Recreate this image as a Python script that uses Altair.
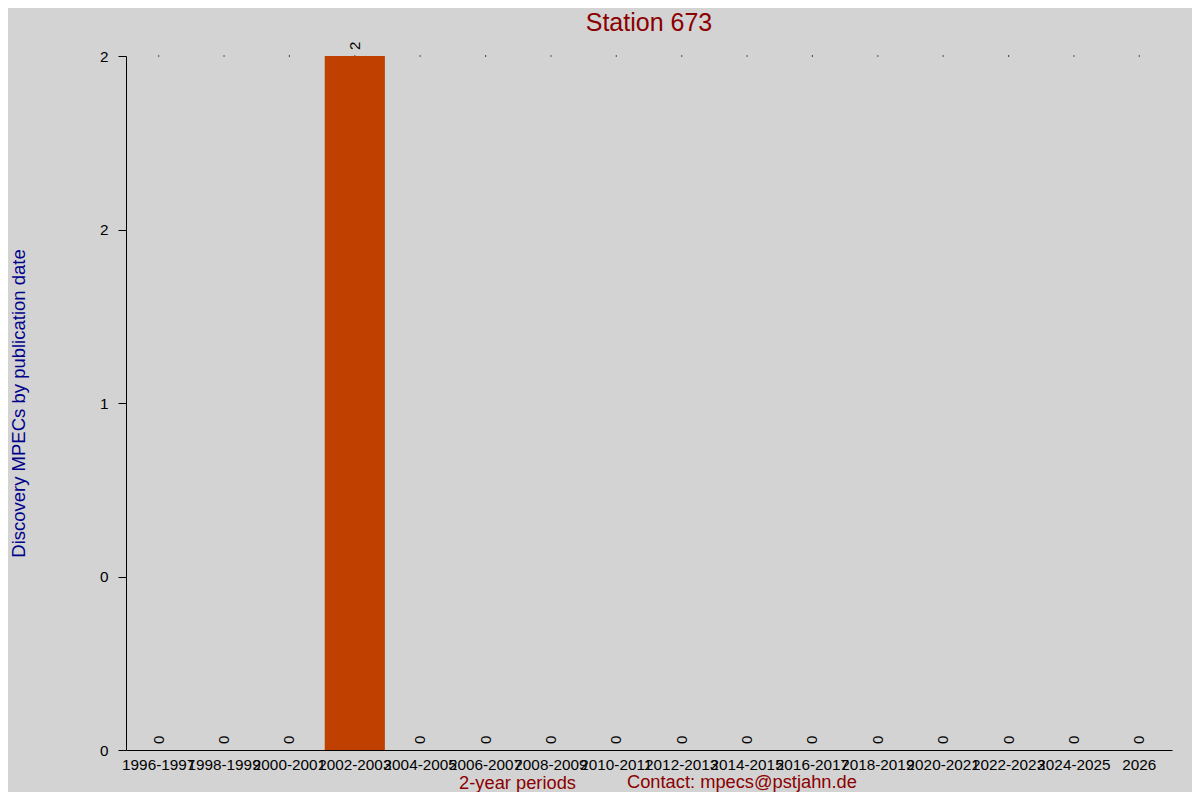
import altair as alt
import pandas as pd

FONT = "Liberation Sans"

categories = ["1996-1997", "1998-1999", "2000-2001", "2002-2003", "2004-2005",
              "2006-2007", "2008-2009", "2010-2011", "2012-2013", "2014-2015",
              "2016-2017", "2018-2019", "2020-2021", "2022-2023", "2024-2025", "2026"]
counts = [0, 0, 0, 2, 0, 0, 0, 0, 0, 0, 0, 0, 0, 0, 0, 0]
y_tick_values = [0, 0.5, 1, 1.5, 2]
y_tick_labels = ["0", "0", "1", "2", "2"]

title_text = "Station 673"
x_title = "2-year periods"
contact_text = "Contact: mpecs@pstjahn.de"
y_title = "Discovery MPECs by publication date"

df = pd.DataFrame({
    "period": categories,
    "count": counts,
    "label": [str(c) for c in counts],
    "top": [max(counts)] * len(counts),
})

label_expr = " : ".join(
    f"datum.value == {v} ? '{l}'" for v, l in zip(y_tick_values, y_tick_labels)
) + " : ''"

x_enc = alt.X(
    "period:N",
    sort=categories,
    scale=alt.Scale(paddingInner=0.08, paddingOuter=0.04),
    axis=alt.Axis(
        title=x_title, labelAngle=0, labelOverlap=False, ticks=False, tickSize=0,
        labelPadding=7, labelFontSize=15.3, labelColor="black", labelFont=FONT,
        titleFont=FONT, titleFontSize=18.3, titleFontWeight="normal", titleColor="#8b0000",
        titleX=391, titleY=38, titleAlign="center", titleBaseline="alphabetic",
        domainColor="black",
    ),
)

y_scale = alt.Scale(domain=[0, 2], nice=False)

y_enc = alt.Y(
    "count:Q",
    scale=y_scale,
    axis=alt.Axis(
        values=y_tick_values, labelExpr=label_expr, title=y_title, grid=False,
        tickSize=8, labelPadding=10, labelFontSize=15.3, labelColor="black", labelFont=FONT,
        tickColor="black", domainColor="black",
        titleFont=FONT, titleFontSize=18.5, titleFontWeight="normal", titleColor="#00008b",
        titleX=-108, titleY=347, titleAngle=270, titleAlign="center", titleBaseline="middle",
    ),
)

base = alt.Chart(df)

dots = base.mark_square(size=1.5, color="black", opacity=1).encode(
    x=x_enc, y=alt.Y("top:Q", scale=y_scale)
)
bars = base.mark_bar(color="#c04000").encode(x=x_enc, y=y_enc)
labels = base.mark_text(
    angle=270, align="left", baseline="middle", dx=6, fontSize=15, font=FONT, color="black"
).encode(x=x_enc, y=alt.Y("count:Q", scale=y_scale), text="label:N")

contact = alt.Chart(pd.DataFrame({"t": [contact_text]})).mark_text(
    align="left", baseline="alphabetic", fontSize=18.3, font=FONT, color="#8b0000"
).encode(x=alt.value(501), y=alt.value(732), text="t:N")

chart = alt.layer(dots, bars, labels, contact).properties(
    width=1046,
    height=694,
    title=alt.TitleParams(text=title_text, fontSize=25, font=FONT, fontWeight="normal",
                          color="#8b0000", anchor="middle", offset=6),
    autosize=alt.AutoSizeParams(type="none"),
    padding={"left": 118, "top": 48, "right": 20, "bottom": 42},
    background="#d3d3d3",
).configure_view(stroke=None)

chart.save("out.html", embed_options={"renderer": "svg", "actions": False})
